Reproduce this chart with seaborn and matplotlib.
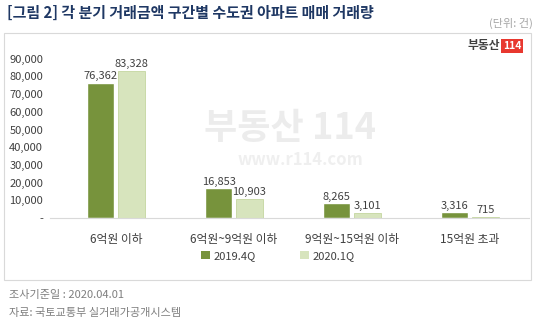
import matplotlib
matplotlib.use("Agg")
import matplotlib.pyplot as plt
import seaborn as sns
import pandas as pd
from matplotlib.patches import Rectangle, Patch

categories = ["6억원 이하", "6억원~9억원 이하", "9억원~15억원 이하", "15억원 초과"]
series_names = ["2019.4Q", "2020.1Q"]
values_2019q4 = [76362, 16853, 8265, 3316]
values_2020q1 = [83328, 10903, 3101, 715]
ytick_values = [0, 10000, 20000, 30000, 40000, 50000, 60000, 70000, 80000, 90000]
ytick_labels = ["-", "10,000", "20,000", "30,000", "40,000", "50,000", "60,000", "70,000", "80,000", "90,000"]

df = pd.DataFrame({
    "cat": categories * 2,
    "series": [series_names[0]] * 4 + [series_names[1]] * 4,
    "value": values_2019q4 + values_2020q1,
})

sns.set_theme(style="white")
plt.rcParams['font.family'] = ['Noto Sans CJK KR', 'DejaVu Sans']

W, H = 540, 319
fig = plt.figure(figsize=(W / 100, H / 100), dpi=100)

# chart box border
fig.patches.append(Rectangle((4 / W, 1 - 280 / H), (531 - 4) / W, (280 - 33) / H,
                             transform=fig.transFigure, fill=False,
                             edgecolor="#d9d9d9", linewidth=0.8))

# watermark
fig.text(290 / W, 1 - 128 / H, "부동산 114", fontsize=26, fontweight="bold",
         color="#ececec", ha="center", va="center", zorder=0)
fig.text(300 / W, 1 - 160 / H, "www.r114.com", fontsize=12, fontweight="bold",
         color="#efefef", ha="center", va="center", zorder=0)

ax = fig.add_axes([50 / W, 1 - 218 / H, (529 - 50) / W, (218 - 41) / H])
colors = {"2019.4Q": "#77933C", "2020.1Q": "#D7E4BD"}
sns.barplot(data=df, x="cat", y="value", hue="series", palette=colors,
            width=0.52, gap=0.12, ax=ax, legend=False, saturation=1)

for p in ax.patches[4:8]:
    p.set_edgecolor("#c4d6a0")
    p.set_linewidth(0.6)

for cont in ax.containers:
    ax.bar_label(cont, labels=[f"{int(v):,}" for v in cont.datavalues],
                 fontsize=8, color="#404040", padding=1)

ax.set_xlim(-0.56, 3.5)
ax.set_ylim(0, 100000)
ax.set_yticks(ytick_values)
ax.set_yticklabels(ytick_labels, fontsize=8, color="#404040")
ax.tick_params(axis="x", labelsize=8.5, colors="#404040", pad=11, length=0)
ax.tick_params(axis="y", length=0, pad=5)
ax.set_xlabel("")
ax.set_ylabel("")
for s in ["top", "right", "left"]:
    ax.spines[s].set_visible(False)
ax.spines["bottom"].set_color("#d9d9d9")
ax.spines["bottom"].set_linewidth(0.8)
ax.set_facecolor("none")

# legend
handles = [Patch(facecolor=colors[n], edgecolor="none") for n in series_names]
fig.legend(handles, series_names, loc="center", bbox_to_anchor=(278 / W, 1 - 256 / H),
           ncol=2, frameon=False, fontsize=8, handlelength=0.8, handleheight=0.8,
           handletextpad=0.3, columnspacing=4.0, labelcolor="#404040")

# logo
fig.text(500 / W, 1 - 46 / H, "부동산", fontsize=8.5, fontweight="bold",
         color="#404040", ha="right", va="center")
fig.text(512 / W, 1 - 46 / H, "114", fontsize=7.5, fontweight="bold", color="white",
         ha="center", va="center",
         bbox=dict(boxstyle="square,pad=0.15", facecolor="#e8382f", edgecolor="none"))

# title & notes
fig.text(7 / W, 1 - 13 / H, "[그림 2] 각 분기 거래금액 구간별 수도권 아파트 매매 거래량",
         fontsize=10.8, fontweight="bold", color="#1f3864", ha="left", va="center")
fig.text(533 / W, 1 - 23 / H, "(단위: 건)", fontsize=8, color="#a6a6a6",
         ha="right", va="center")
fig.text(9 / W, 1 - 295 / H, "조사기준일 : 2020.04.01", fontsize=8, color="#7f7f7f",
         ha="left", va="center")
fig.text(9 / W, 1 - 313 / H, "자료: 국토교통부 실거래가공개시스템", fontsize=8, color="#7f7f7f",
         ha="left", va="center")

fig.savefig("out.png", dpi=100)
